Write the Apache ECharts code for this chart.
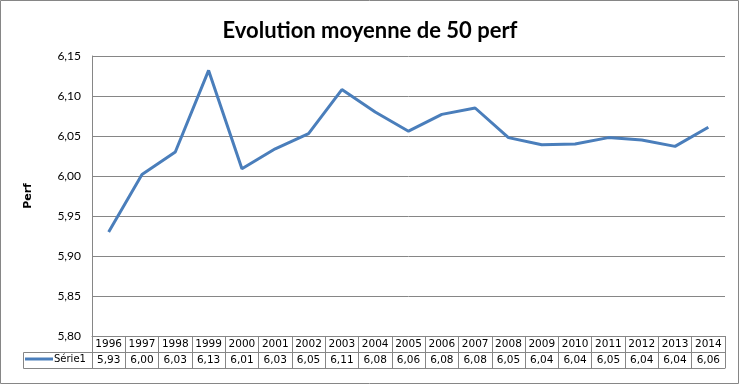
<!DOCTYPE html>
<html><head><meta charset="utf-8">
<script src="https://cdn.jsdelivr.net/npm/echarts@6/dist/echarts.min.js"></script>
<style>html,body{margin:0;padding:0;background:#fff}#c{width:740px;height:385px}</style>
</head><body><div id="c"></div>
<script>
const years = ['1996','1997','1998','1999','2000','2001','2002','2003','2004','2005','2006','2007','2008','2009','2010','2011','2012','2013','2014'];
const serie1 = [5.930,6.002,6.030,6.132,6.009,6.034,6.053,6.108,6.080,6.056,6.077,6.085,6.048,6.039,6.040,6.048,6.045,6.037,6.061];
const seriesName = 'Série1';
const titleText = 'Evolution moyenne de 50 perf';
const yName = 'Perf';

const fmt = v => v.toFixed(2).replace('.', ',');
const gray = '#868686';
const tableFont = {fontFamily:'DejaVu Sans', fontSize:10.5, color:'#000'};

const chart = echarts.init(document.getElementById('c'), null, {renderer:'canvas'});
chart.setOption({
  animation:false,
  title:{text:titleText, left:'center', top:15,
    textStyle:{fontFamily:'Lato', fontWeight:'bold', fontSize:22, color:'#000'}},
  grid:{left:92, right:15, top:56, bottom:49, containLabel:false},
  legend:{show:true, left:25, top:354, padding:0, icon:'rect', itemWidth:28, itemHeight:3, itemGap:0,
    data:[seriesName], textStyle:{fontFamily:'DejaVu Sans', fontSize:10, color:'#000', padding:[0,0,0,-4]},
    selectedMode:false},
  xAxis:[
    {type:'category', data:years, boundaryGap:true, position:'bottom',
      axisLine:{show:true, lineStyle:{color:gray, width:1}},
      axisTick:{show:true, interval:0, length:32, lineStyle:{color:gray}},
      axisLabel:{interval:0, margin:3, ...tableFont},
      splitLine:{show:false}},
    {type:'category', data:serie1.map(fmt), boundaryGap:true, position:'bottom', offset:16,
      axisLine:{show:true, lineStyle:{color:gray, width:1}},
      axisTick:{show:false},
      axisLabel:{interval:0, margin:3, ...tableFont}},
    {type:'category', data:years, boundaryGap:true, position:'bottom', offset:32,
      axisLine:{show:true, lineStyle:{color:gray, width:1}},
      axisTick:{show:false}, axisLabel:{show:false}}
  ],
  yAxis:{type:'value', min:5.8, max:6.15, interval:0.05,
    name:yName, nameLocation:'middle', nameRotate:90, nameGap:58,
    nameTextStyle:{fontFamily:'DejaVu Sans', fontWeight:'bold', fontSize:11, color:'#000'},
    axisLine:{show:true, lineStyle:{color:gray}},
    axisTick:{show:false},
    axisLabel:{formatter:v=>fmt(v), margin:11, fontFamily:'Lato', fontSize:12, color:'#000'},
    splitLine:{show:true, lineStyle:{color:gray, width:1}}},
  series:[{name:seriesName, type:'line', data:serie1, xAxisIndex:0, showSymbol:false, symbol:'none',
    lineStyle:{color:'#4A7EBB', width:3}, itemStyle:{color:'#4A7EBB'}}],
  graphic:[
    {type:'rect', shape:{x:0.5, y:0.5, width:738, height:383}, style:{fill:null, stroke:gray, lineWidth:1}, silent:true},
    {type:'rect', shape:{x:23.5, y:352.5, width:69, height:16}, style:{fill:null, stroke:gray, lineWidth:1}, silent:true}
  ]
});
</script></body></html>
